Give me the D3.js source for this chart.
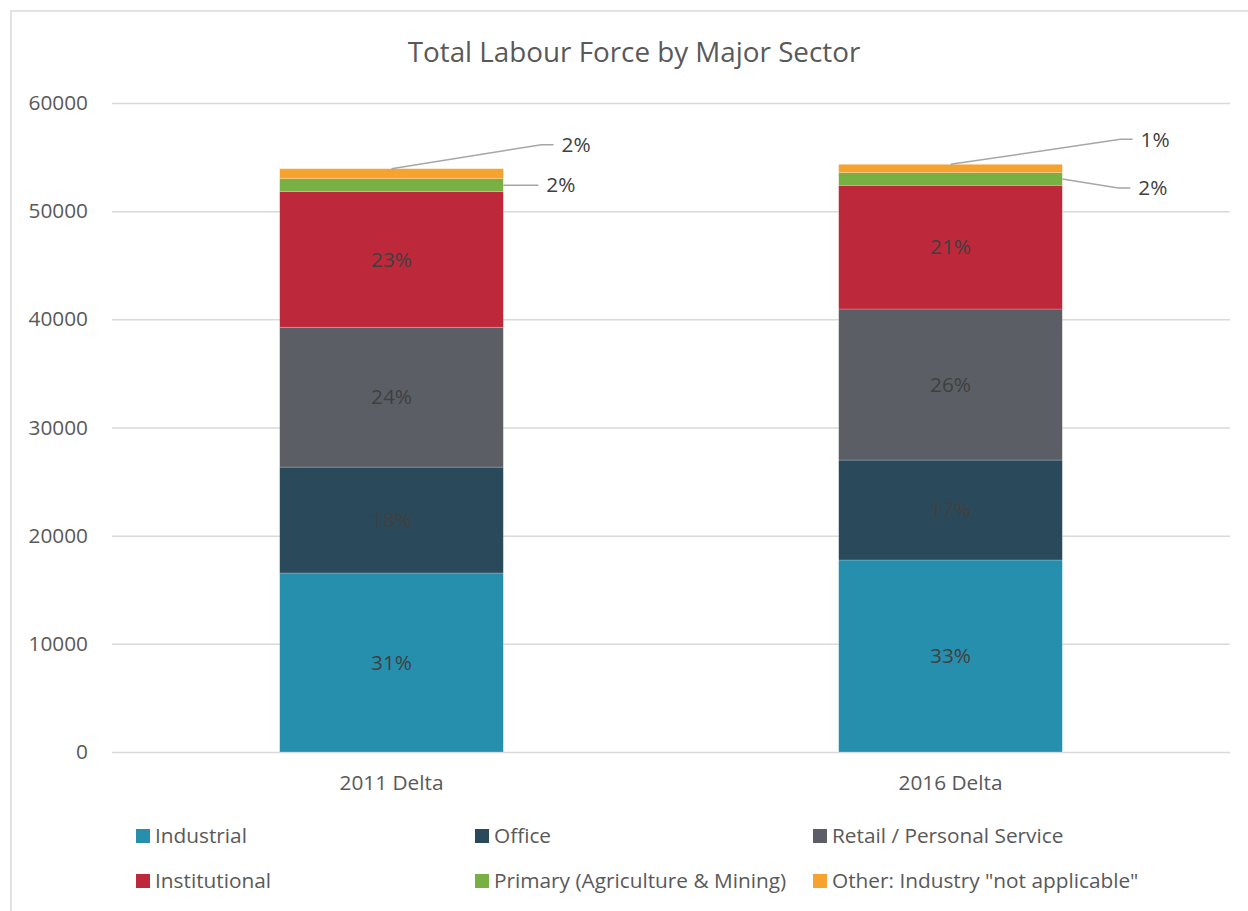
<!DOCTYPE html>
<html>
<head>
<meta charset="utf-8">
<script src="https://cdn.jsdelivr.net/npm/d3@7"></script>
<style>
  html, body { margin: 0; padding: 0; background: #fff; }
  svg { display: block; font-family: "Open Sans", sans-serif; }
</style>
</head>
<body>
<svg id="chart" width="1248" height="911"></svg>
<script>
// Labour force counts by sector for each census year
const categories = ["2011 Delta", "2016 Delta"];
const sectors = ["Industrial", "Office", "Retail / Personal Service", "Institutional",
                 "Primary (Agriculture & Mining)", "Other: Industry \"not applicable\""];
const industrial    = [16550, 17750];
const office        = [9790, 9240];
const retail        = [12930, 13965];
const institutional = [12530, 11435];
const primary       = [1200, 1170];
const other         = [925, 770];
const yTicks = [0, 10000, 20000, 30000, 40000, 50000, 60000];

const colors = ["#278fae", "#2a4a5c", "#5b5f65", "#be283b", "#78b043", "#f5a22f"];
const seriesValues = [industrial, office, retail, institutional, primary, other];

const rows = categories.map((c, i) => {
  const r = { category: c };
  sectors.forEach((s, k) => r[s] = seriesValues[k][i]);
  r.total = d3.sum(seriesValues, v => v[i]);
  return r;
});

const svg = d3.select("#chart");
const textColor = "#595959";
const labelColor = "#404040";
const gridColor = "#d9d9d9";
const fs = 20.8;

// Chart frame
svg.append("rect").attr("x", 11).attr("y", 11).attr("width", 1260).attr("height", 920)
  .attr("fill", "none").attr("stroke", gridColor).attr("stroke-width", 1.5);

// Title
svg.append("text").attr("x", 634).attr("y", 62).attr("text-anchor", "middle")
  .attr("font-size", 27.8).attr("fill", textColor).text("Total Labour Force by Major Sector");

const plotLeft = 112, plotRight = 1230;
const x = d3.scaleBand().domain(categories).range([plotLeft, plotRight]).padding(0);
const y = d3.scaleLinear().domain([0, 60000]).range([752, 103]);
const barW = x.bandwidth() * 0.4;

// Gridlines and y-axis labels
const yAxis = d3.axisLeft(y).tickValues(yTicks).tickSize(-(plotRight - plotLeft)).tickPadding(24)
  .tickFormat(d3.format("d"));
const gy = svg.append("g").attr("transform", `translate(${plotLeft},0)`).call(yAxis);
gy.select(".domain").remove();
gy.selectAll(".tick line").attr("stroke", gridColor).attr("stroke-width", 1.5);
gy.selectAll(".tick text").attr("font-size", fs).attr("fill", textColor)
  .attr("font-family", "Open Sans, sans-serif");

// x-axis labels
const xAxis = d3.axisBottom(x).tickSize(0).tickPadding(23);
const gx = svg.append("g").attr("transform", `translate(0,${y(0)})`).call(xAxis);
gx.select(".domain").remove();
gx.selectAll(".tick text").attr("font-size", fs).attr("fill", textColor)
  .attr("font-family", "Open Sans, sans-serif");

// Stacked bars
const stack = d3.stack().keys(sectors)(rows);
const layers = svg.append("g").selectAll("g").data(stack).join("g")
  .attr("fill", (d, i) => colors[i]);
layers.selectAll("rect").data(d => d).join("rect")
  .attr("x", d => x(d.data.category) + (x.bandwidth() - barW) / 2)
  .attr("y", d => y(d[1]))
  .attr("width", barW)
  .attr("height", d => y(d[0]) - y(d[1]))
  .attr("stroke", "#ffffff").attr("stroke-opacity", 0.35).attr("stroke-width", 0.6);

const pct = (d) => Math.round((d[1] - d[0]) / d.data.total * 100) + "%";

// Percent labels inside the larger segments
stack.slice(0, 4).forEach(layer => {
  svg.append("g").selectAll("text").data(layer).join("text")
    .attr("x", d => x(d.data.category) + x.bandwidth() / 2)
    .attr("y", d => (y(d[0]) + y(d[1])) / 2)
    .attr("dy", "0.35em").attr("text-anchor", "middle")
    .attr("font-size", fs).attr("fill", labelColor).text(pct);
});

// Callout labels for the thin top segments
const callouts = [
  { layer: 5, cat: 0, from: "center", dx: 150, dy: -24, run: 12 },
  { layer: 4, cat: 0, from: "edge",   dx: 35,  dy: 0,   run: 0 },
  { layer: 5, cat: 1, from: "center", dx: 170, dy: -25, run: 12 },
  { layer: 4, cat: 1, from: "edge",   dx: 56,  dy: 9,   run: 12 }
];
const cg = svg.append("g");
callouts.forEach(c => {
  const d = stack[c.layer][c.cat];
  const cx = x(d.data.category) + x.bandwidth() / 2;
  const x0 = c.from === "center" ? cx : cx + barW / 2;
  const y0 = c.from === "center" ? y(d[1]) : (y(d[0]) + y(d[1])) / 2;
  const x1 = x0 + c.dx, y1 = y0 + c.dy, x2 = x1 + c.run;
  cg.append("polyline").attr("points", `${x0},${y0} ${x1},${y1} ${x2},${y1}`)
    .attr("fill", "none").attr("stroke", "#a6a6a6").attr("stroke-width", 1.5);
  cg.append("text").attr("x", x2 + 8).attr("y", y1).attr("dy", "0.35em")
    .attr("font-size", fs).attr("fill", labelColor).text(pct(d));
});

// Legend
const legendCols = [136, 475, 813];
const legendRows = [836, 881];
const lg = svg.append("g");
sectors.forEach((s, i) => {
  const lx = legendCols[i % 3], ly = legendRows[Math.floor(i / 3)];
  lg.append("rect").attr("x", lx).attr("y", ly - 7).attr("width", 14).attr("height", 14)
    .attr("fill", colors[i]);
  lg.append("text").attr("x", lx + 19).attr("y", ly).attr("dy", "0.35em")
    .attr("font-size", fs).attr("fill", textColor).text(s);
});
</script>
</body>
</html>
